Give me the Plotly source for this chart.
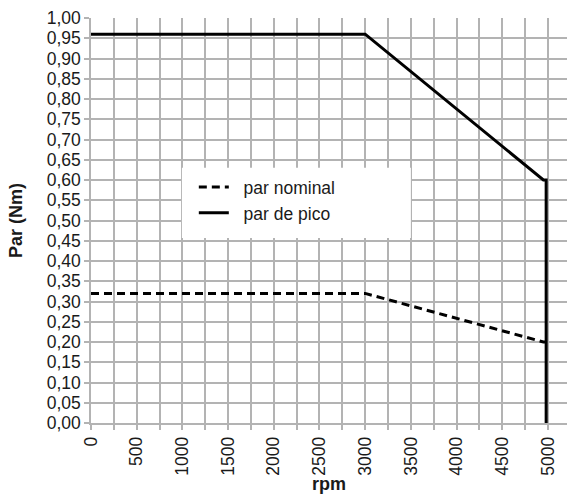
import plotly.graph_objects as go

# Data
nominal_rpm = [0, 3000, 4950, 4980]
nominal_torque = [0.32, 0.32, 0.20, 0.20]
peak_rpm = [0, 3000, 4950, 4980, 4980]
peak_torque = [0.96, 0.96, 0.60, 0.60, 0.00]
series_names = ["par nominal", "par de pico"]

fig = go.Figure()
fig.add_trace(go.Scatter(x=nominal_rpm, y=nominal_torque, mode="lines", name="\u00a0\u00a0" + series_names[0],
                         line=dict(color="black", width=3, dash="8px,5px")))
fig.add_trace(go.Scatter(x=peak_rpm, y=peak_torque, mode="lines", name="\u00a0\u00a0" + series_names[1],
                         line=dict(color="black", width=3)))

grid = "#b3b3b3"
font = "Liberation Sans, Arial, sans-serif"

fig.update_layout(
    width=567, height=494,
    margin=dict(l=91, r=0, t=18, b=71),
    paper_bgcolor="white", plot_bgcolor="white",
    separators=", ",
    font=dict(family=font, size=17.5, color="#1a1a1a"),
    showlegend=True,
    legend=dict(x=0.216, y=0.627, xanchor="left", yanchor="top", bgcolor="rgba(0,0,0,0)",
                font=dict(size=17.5, color="#1a1a1a"), tracegroupgap=0, itemwidth=30),
    shapes=[dict(type="rect", xref="paper", yref="paper", x0=0.191, x1=0.672, y0=0.457, y1=0.63,
                 fillcolor="white", line=dict(width=0), layer="above")],
)
fig.update_xaxes(range=[0, 5208], dtick=500, tick0=0, tickformat="d", tickangle=-90,
                 automargin=False,
                 showgrid=True, gridcolor=grid, gridwidth=1.5,
                 ticks="outside", ticklen=5, tickcolor=grid, tickwidth=1.5,
                 minor=dict(dtick=250, showgrid=True, gridcolor=grid, gridwidth=1.5,
                            ticks="outside", ticklen=5, tickcolor=grid, tickwidth=1.5),
                 showline=True, linecolor=grid, linewidth=1.5, zeroline=False,
                 title=dict(text="<b>rpm</b>", font=dict(size=18), standoff=0),
                 tickfont=dict(size=17.5))
fig.update_yaxes(range=[0, 1.0], dtick=0.05, tick0=0, tickformat=".2f",
                 automargin=False,
                 showgrid=True, gridcolor=grid, gridwidth=1.5,
                 ticks="outside", ticklen=5, tickcolor=grid, tickwidth=1.5,
                 showline=True, linecolor=grid, linewidth=1.5, zeroline=False,
                 title=dict(text="<b>Par (Nm)</b>", font=dict(size=18), standoff=19),
                 tickfont=dict(size=17.5))

fig.write_html("out.html", config={"displayModeBar": False},
               post_script="document.body.style.margin='0';")
